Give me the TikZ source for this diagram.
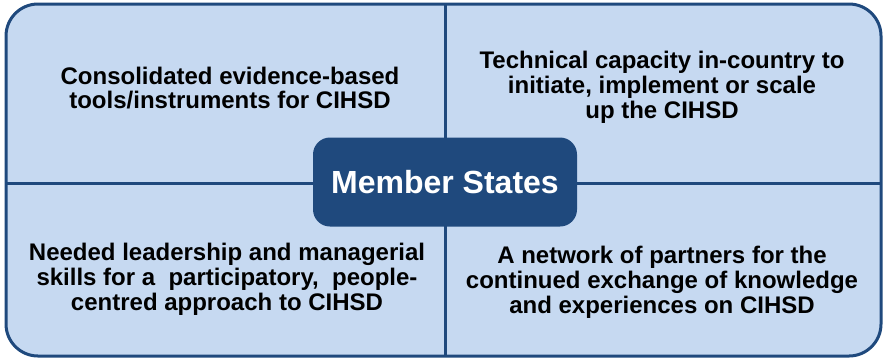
\documentclass[tikz,border=0pt]{standalone}
\usepackage{fontspec}
\setmainfont{Liberation Sans}
\definecolor{panel}{HTML}{C6D9F1}
\definecolor{navy}{HTML}{1F497D}
\tikzset{
  frame/.style={draw=navy,line width=3pt,fill=panel,rounded corners=32pt},
  divider/.style={draw=navy,line width=3pt},
  quad/.style={align=center,font=\bfseries\fontsize{24}{24.8}\selectfont,inner sep=0pt},
  hub/.style={fill=navy,text=white,rounded corners=17pt,minimum width=264pt,
    minimum height=89pt,font=\bfseries\fontsize{32}{38}\selectfont}
}
\begin{document}
\begin{tikzpicture}[x=1pt,y=-1pt]
      \useasboundingbox (0,0) rectangle (885,360);
      \draw[frame] (6,4) rectangle (881,356);
      \draw
        (445,4) coordinate (top)
        (445,356) coordinate (bottom)
        (6,183) coordinate (left)
        (881,183) coordinate (right);
      \begin{scope}[divider]
        \draw (top) to (bottom);
        \draw (left) to (right);
      \end{scope}
      \draw
        (230,88) node[quad] (tl){Consolidated evidence-based\\tools/instruments for CIHSD}
        (662,87) node[quad] (tr){Technical capacity in-country to\\initiate, implement or scale\\up the CIHSD}
        (227,279) node[quad] (bl){Needed leadership and managerial\\skills for a \ participatory, \ people-\\centred approach to CIHSD}
        (662,282) node[quad] (br){A network of partners for the\\continued exchange of knowledge\\and experiences on CIHSD}
        (445,182) node[hub] (ms){Member States};
    \end{tikzpicture}
\end{document}
